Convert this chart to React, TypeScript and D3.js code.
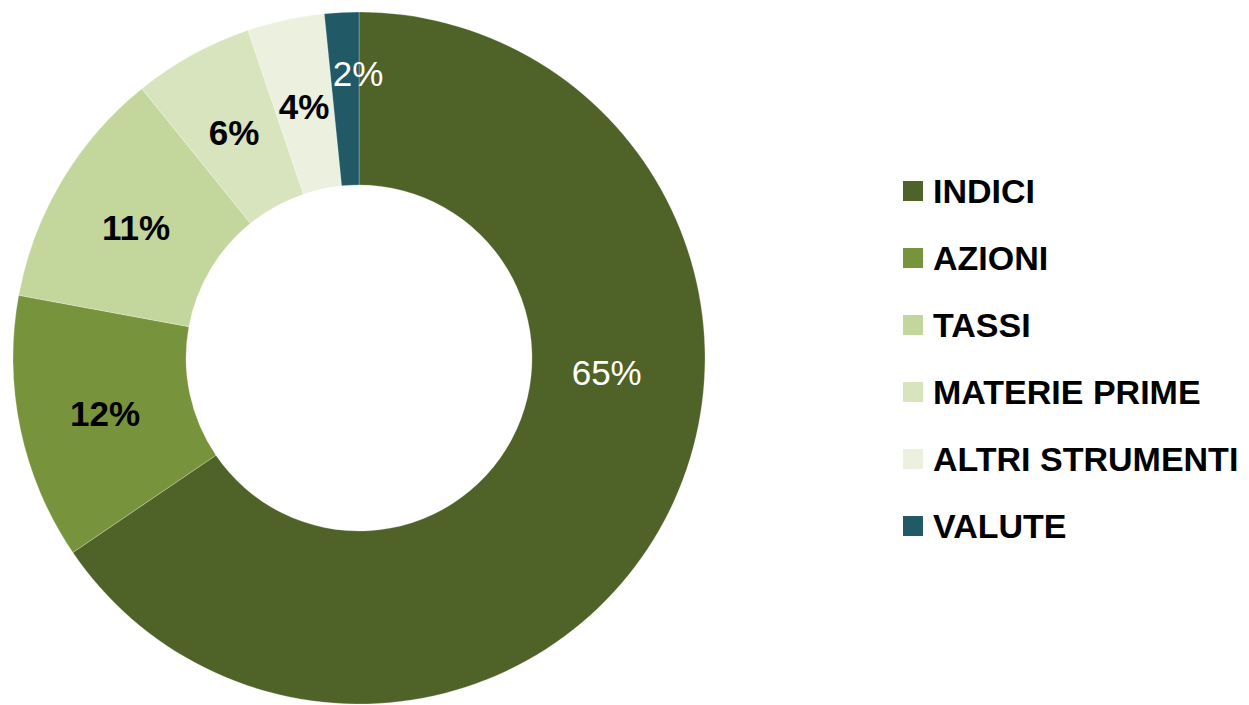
import React from "react";
import * as d3 from "d3";

const categories = ["INDICI", "AZIONI", "TASSI", "MATERIE PRIME", "ALTRI STRUMENTI", "VALUTE"];
const values = [65.5, 12.4, 11.3, 5.6, 3.6, 1.6];
const labels = ["65%", "12%", "11%", "6%", "4%", "2%"];
const colors = ["#4F6228", "#77933C", "#C3D69B", "#D7E4BD", "#EBF1DE", "#215967"];
const labelColors = ["#FFFFFF", "#000000", "#000000", "#000000", "#000000", "#FFFFFF"];
const labelBold = [false, true, true, true, true, false];

// layout
const W = 1249;
const H = 705;
const CX = 359;
const CY = 358;
const R_OUT = 346;
const R_IN = 173;
// polar overrides (degrees clockwise from top, radius) for labels moved off the centroid
const labelOverride: Record<number, [number, number]> = { 0: [92.8, 248], 5: [-0.2, 287] };
const LEGEND_X = 903;
const LEGEND_Y0 = 191;
const LEGEND_STEP = 67;
const FONT = "'Liberation Sans', Arial, sans-serif";

export default function App() {
  const pie = d3.pie<number>().sort(null).value((d) => d);
  const arcs = pie(values);
  const arc = d3.arc<d3.PieArcDatum<number>>().innerRadius(R_IN).outerRadius(R_OUT);
  const labelArc = d3
    .arc<d3.PieArcDatum<number>>()
    .innerRadius((R_IN + R_OUT) / 2)
    .outerRadius((R_IN + R_OUT) / 2);

  return (
    <svg
      width={W}
      height={H}
      style={{ position: "absolute", left: 0, top: 0, display: "block", background: "#fff" }}
    >
      <g transform={`translate(${CX},${CY})`}>
        {arcs.map((a, i) => (
          <path key={i} d={arc(a) || ""} fill={colors[i]} stroke="rgba(255,255,255,0.25)" strokeWidth={1} />
        ))}
        {arcs.map((a, i) => {
          let x: number, y: number;
          if (labelOverride[i]) {
            const [deg, r] = labelOverride[i];
            const t = (deg * Math.PI) / 180;
            x = r * Math.sin(t);
            y = -r * Math.cos(t);
          } else {
            [x, y] = labelArc.centroid(a);
          }
          return (
            <text
              key={i}
              x={x}
              y={y + 2}
              textAnchor="middle"
              dominantBaseline="central"
              fontFamily={FONT}
              fontSize={35}
              fontWeight={labelBold[i] ? "bold" : "normal"}
              fill={labelColors[i]}
            >
              {labels[i]}
            </text>
          );
        })}
      </g>
      <g>
        {categories.map((c, i) => {
          const cy = LEGEND_Y0 + i * LEGEND_STEP;
          return (
            <g key={c}>
              <rect x={LEGEND_X} y={cy - 10} width={20} height={20} fill={colors[i]} />
              <text
                x={LEGEND_X + 30}
                y={cy + 12}
                fontFamily={FONT}
                fontSize={34}
                fontWeight="bold"
                fill="#000"
              >
                {c}
              </text>
            </g>
          );
        })}
      </g>
    </svg>
  );
}
